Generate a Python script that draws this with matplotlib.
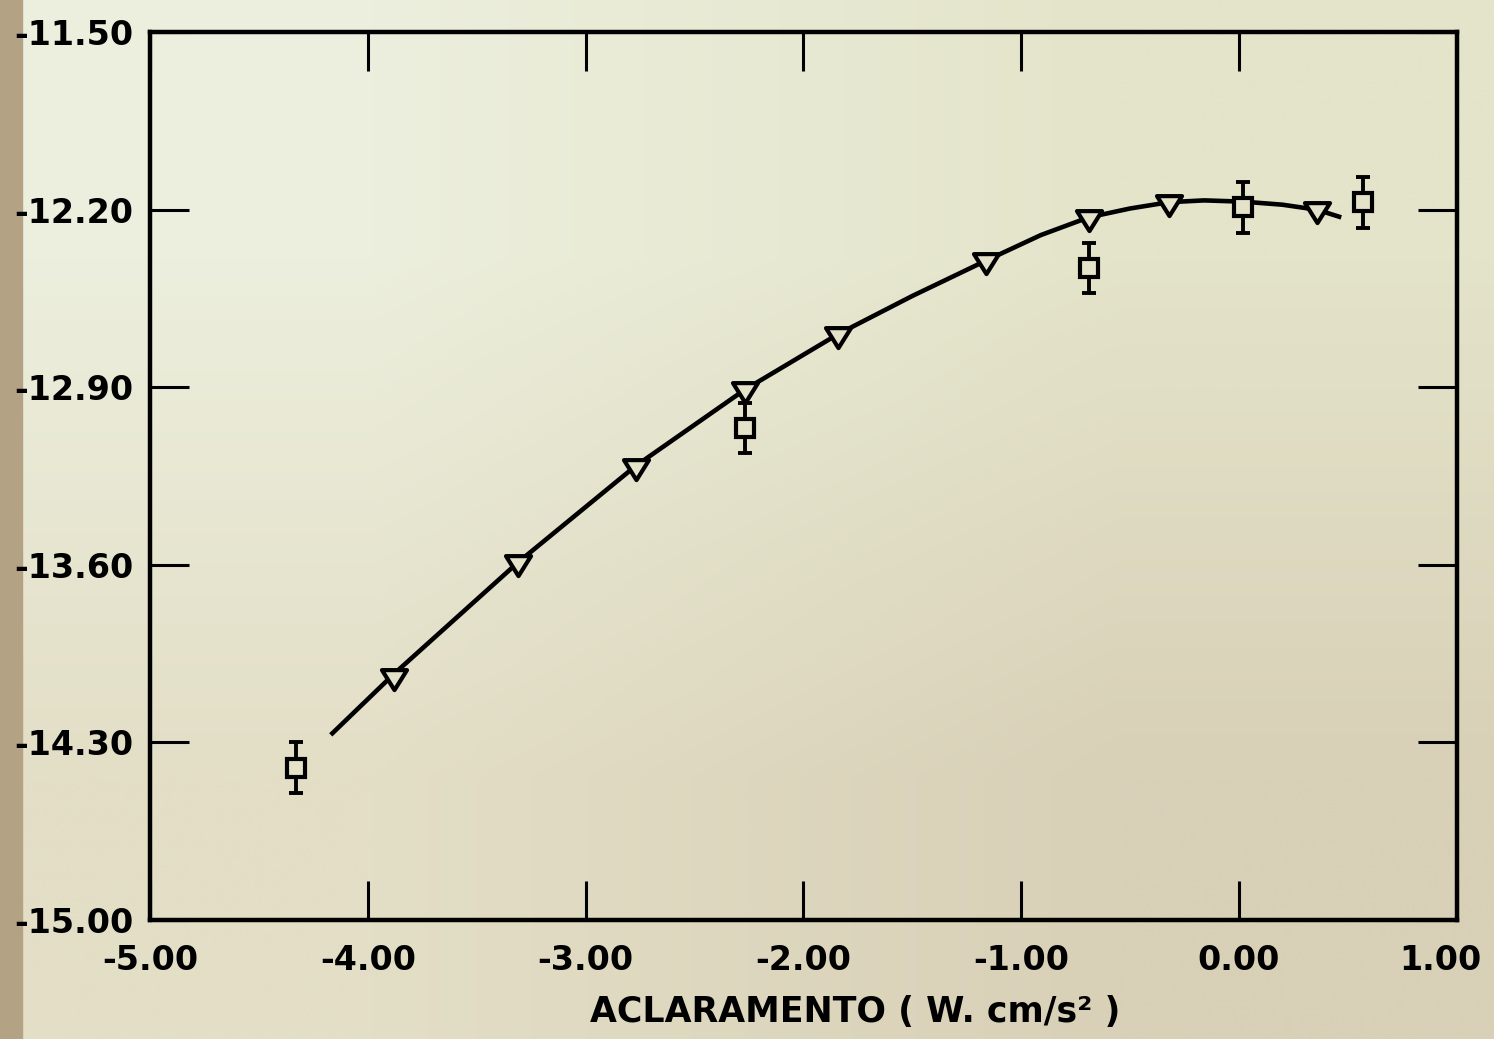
import numpy as np
import matplotlib.pyplot as plt
import matplotlib.transforms as mtransforms
from matplotlib.path import Path

plt.rcParams['font.family'] = ['DejaVu Sans']
plt.rcParams['axes.unicode_minus'] = False

# fitted curve, read at points along its length
curve_x = [-4.17, -3.88, -3.31, -2.77, -2.27, -1.84, -1.50, -1.16, -0.91, -0.69,
           -0.50, -0.32, -0.16, 0.02, 0.20, 0.36, 0.47]
curve_y = [-14.27, -14.03, -13.59, -13.21, -12.91, -12.69, -12.54, -12.40, -12.30, -12.23,
           -12.195, -12.17, -12.163, -12.168, -12.18, -12.20, -12.23]

# triangles (calculated values)
tri_x = [-3.88, -3.31, -2.77, -2.27, -1.84, -1.16, -0.69, -0.32, 0.36]
tri_y = [-14.05, -13.60, -13.22, -12.92, -12.70, -12.41, -12.24, -12.18, -12.21]

# squares with error bars (measured values)
sq_x = [-4.33, -2.27, -0.69, 0.02, 0.57]
sq_y = [-14.40, -13.06, -12.43, -12.19, -12.17]
sq_err = [0.10, 0.10, 0.10, 0.10, 0.10]

xticks = [-5.0, -4.0, -3.0, -2.0, -1.0, 0.0, 1.0]
yticks = [-15.0, -14.3, -13.6, -12.9, -12.2, -11.5]

paper = '#e4e2c9'

fig = plt.figure(figsize=(14.94, 10.39), dpi=100)

# paper tone
bg = fig.add_axes([0, 0, 1, 1], zorder=-10)
corners = np.array([[[236, 239, 221], [228, 228, 202]],
                    [[227, 222, 198], [216, 208, 183]]]) / 255.0
bg.imshow(corners, extent=[0, 1, 0, 1], interpolation='bilinear', aspect='auto')
bg.axvspan(0, 0.015, color='#b3a384')
bg.set_xlim(0, 1)
bg.set_ylim(0, 1)
bg.axis('off')

ax = fig.add_axes([0.1004, 0.1145, 0.8746, 0.8545])
ax.patch.set_alpha(0)

ax.plot(curve_x, curve_y, color='black', lw=3.3, solid_capstyle='butt',
        solid_joinstyle='round', zorder=2)

tri = Path([(-1.0, 0.75), (1.0, 0.75), (0.0, -0.85), (-1.0, 0.75)],
           [Path.MOVETO, Path.LINETO, Path.LINETO, Path.CLOSEPOLY])
ax.plot(tri_x, tri_y, ls='none', marker=tri, ms=18, mfc=paper, mec='black',
        mew=3.0, zorder=3)

ax.errorbar(sq_x, sq_y, yerr=sq_err, fmt='none', ecolor='black', elinewidth=2.8,
            capsize=5, capthick=2.8, zorder=3)
ax.plot(sq_x, sq_y, ls='none', marker='s', ms=13, mfc=paper, mec='black',
        mew=3.0, zorder=4)

ax.set_xlim(-5.0, 1.0)
ax.set_ylim(-15.0, -11.5)
ax.set_xticks(xticks)
ax.set_yticks(yticks)
ax.set_xticklabels(['%.2f' % v for v in xticks], fontweight='bold')
ax.set_yticklabels(['%.2f' % v for v in yticks], fontweight='bold')

for s in ax.spines.values():
    s.set_linewidth(3.2)
ax.tick_params(direction='in', length=28, width=2.2, top=True, right=True,
               colors='black')
ax.tick_params(axis='x', pad=17, labelsize=24)
ax.tick_params(axis='y', pad=12, labelsize=24)

# keep the last x label inside the page
last = ax.get_xticklabels()[-1]
last.set_transform(last.get_transform() +
                   mtransforms.ScaledTranslation(-0.16, 0, fig.dpi_scale_trans))

ax.set_xlabel('ACLARAMENTO ( W. cm/s² )', fontsize=25, fontweight='bold')
ax.xaxis.set_label_coords(0.54, -0.085)

fig.savefig('out.png', dpi=100)
